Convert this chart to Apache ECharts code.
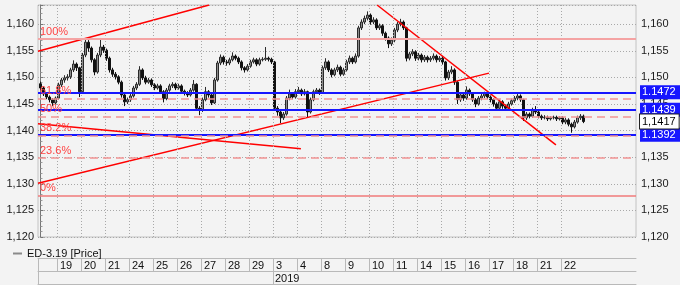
<!DOCTYPE html>
<html><head><meta charset="utf-8">
<script src="https://cdn.jsdelivr.net/npm/echarts@6/dist/echarts.min.js"></script>
<style>html,body{margin:0;padding:0;background:#f3f3f3}#c{width:680px;height:285px}</style>
</head><body><div id="c"></div>
<script>
// ---- data ----
const seriesName = 'ED-3.19 [Price]';
const dayLabels = ['19','20','21','24','25','26','27','28','29','3','4','8','9','10','11','14','15','16','17','18','21','22'];
const yearLabel = '2019';
const yearStartsAtDay = 9; // index of '3' in dayLabels
const opens = [
1.1488,1.1480,1.1469,1.1463,1.1458,1.1452,
1.1461,1.1486,1.1495,1.1499,1.1501,1.1514,1.1525,1.1518,
1.1473,1.1542,1.1566,1.1555,1.1533,1.1510,1.1542,1.1557,
1.1551,1.1536,1.1514,1.1506,1.1501,1.1491,1.1467,1.1454,
1.1458,1.1465,1.1480,1.1487,1.1514,1.1499,1.1491,1.1495,
1.1486,1.1480,1.1484,1.1473,1.1460,1.1476,1.1484,1.1487,
1.1480,1.1484,1.1474,1.1471,1.1467,1.1476,1.1487,1.1442,
1.1439,1.1458,1.1473,1.1467,1.1452,1.1495,1.1527,1.1538,
1.1529,1.1527,1.1533,1.1540,1.1536,1.1529,1.1518,1.1514,
1.1521,1.1529,1.1533,1.1525,1.1533,1.1534,1.1536,1.1534,
1.1529,1.1442,1.1435,1.1424,1.1431,1.1461,1.1469,1.1463,
1.1473,1.1476,1.1469,1.1473,1.1435,1.1458,1.1473,1.1476,
1.1471,1.1518,1.1529,1.1514,1.1505,1.1514,1.1519,1.1506,
1.1514,1.1529,1.1536,1.1529,1.1540,1.1593,1.1604,1.1611,
1.1617,1.1604,1.1608,1.1593,1.1597,1.1583,1.1574,1.1563,
1.1570,1.1589,1.1600,1.1604,1.1593,1.1536,1.1544,1.1548,
1.1536,1.1542,1.1533,1.1538,1.1533,1.1536,1.1540,1.1533,
1.1536,1.1529,1.1499,1.1510,1.1514,1.1491,1.1458,1.1467,
1.1461,1.1476,1.1469,1.1458,1.1450,1.1461,1.1465,1.1469,
1.1463,1.1458,1.1450,1.1442,1.1454,1.1446,1.1442,1.1450,
1.1456,1.1461,1.1465,1.1458,1.1424,1.1431,1.1427,1.1439,
1.1435,1.1427,1.1424,1.1425,1.1422,1.1424,1.1425,1.1422,
1.1424,1.1416,1.1420,1.1412,1.1407,1.1416,1.1424,1.1427];
const closes = [
1.1480,1.1469,1.1463,1.1458,1.1452,1.1461,
1.1486,1.1495,1.1499,1.1501,1.1514,1.1525,1.1518,1.1473,
1.1542,1.1566,1.1555,1.1533,1.1510,1.1542,1.1557,1.1551,
1.1536,1.1514,1.1506,1.1501,1.1491,1.1467,1.1454,1.1458,
1.1465,1.1480,1.1487,1.1514,1.1499,1.1491,1.1495,1.1486,
1.1480,1.1484,1.1473,1.1460,1.1476,1.1484,1.1487,1.1480,
1.1484,1.1474,1.1471,1.1467,1.1476,1.1487,1.1442,1.1439,
1.1458,1.1473,1.1467,1.1452,1.1495,1.1527,1.1538,1.1529,
1.1527,1.1533,1.1540,1.1536,1.1529,1.1518,1.1514,1.1521,
1.1529,1.1533,1.1525,1.1533,1.1534,1.1536,1.1534,1.1529,
1.1442,1.1435,1.1424,1.1431,1.1461,1.1469,1.1463,1.1473,
1.1476,1.1469,1.1473,1.1435,1.1458,1.1473,1.1476,1.1471,
1.1518,1.1529,1.1514,1.1505,1.1514,1.1519,1.1506,1.1514,
1.1529,1.1536,1.1529,1.1540,1.1593,1.1604,1.1611,1.1617,
1.1604,1.1608,1.1593,1.1597,1.1583,1.1574,1.1563,1.1570,
1.1589,1.1600,1.1604,1.1593,1.1536,1.1544,1.1548,1.1536,
1.1542,1.1533,1.1538,1.1533,1.1536,1.1540,1.1533,1.1536,
1.1529,1.1499,1.1510,1.1514,1.1491,1.1458,1.1467,1.1461,
1.1476,1.1469,1.1458,1.1450,1.1461,1.1465,1.1469,1.1463,
1.1458,1.1450,1.1442,1.1454,1.1446,1.1442,1.1450,1.1456,
1.1461,1.1465,1.1458,1.1424,1.1431,1.1427,1.1439,1.1435,
1.1427,1.1424,1.1425,1.1422,1.1424,1.1425,1.1422,1.1424,
1.1416,1.1420,1.1412,1.1407,1.1416,1.1424,1.1427,1.1417];
const highs = [
1.1492,1.1483,1.1472,1.1466,1.1461,1.1464,
1.1490,1.1499,1.1504,1.1506,1.1518,1.1532,1.1528,1.1520,
1.1546,1.1572,1.1570,1.1558,1.1536,1.1546,1.1574,1.1561,
1.1554,1.1539,1.1518,1.1510,1.1504,1.1494,1.1470,1.1462,
1.1469,1.1484,1.1491,1.1521,1.1517,1.1503,1.1499,1.1498,
1.1489,1.1488,1.1487,1.1476,1.1480,1.1488,1.1491,1.1490,
1.1488,1.1487,1.1477,1.1474,1.1480,1.1495,1.1489,1.1446,
1.1462,1.1482,1.1476,1.1470,1.1499,1.1531,1.1543,1.1541,
1.1533,1.1537,1.1547,1.1543,1.1539,1.1532,1.1521,1.1525,
1.1533,1.1537,1.1536,1.1537,1.1538,1.1557,1.1539,1.1537,
1.1531,1.1446,1.1438,1.1435,1.1465,1.1477,1.1472,1.1478,
1.1482,1.1479,1.1478,1.1475,1.1462,1.1477,1.1480,1.1479,
1.1522,1.1536,1.1532,1.1517,1.1518,1.1524,1.1522,1.1518,
1.1533,1.1541,1.1539,1.1545,1.1597,1.1609,1.1616,1.1624,
1.1620,1.1613,1.1611,1.1601,1.1600,1.1586,1.1577,1.1575,
1.1593,1.1604,1.1610,1.1607,1.1595,1.1548,1.1553,1.1551,
1.1546,1.1545,1.1542,1.1541,1.1540,1.1545,1.1543,1.1540,
1.1540,1.1531,1.1514,1.1521,1.1517,1.1493,1.1471,1.1470,
1.1483,1.1479,1.1472,1.1461,1.1465,1.1469,1.1473,1.1472,
1.1466,1.1461,1.1453,1.1458,1.1457,1.1449,1.1454,1.1460,
1.1465,1.1471,1.1468,1.1460,1.1435,1.1434,1.1443,1.1446,
1.1438,1.1430,1.1429,1.1428,1.1427,1.1428,1.1428,1.1427,
1.1427,1.1424,1.1423,1.1415,1.1420,1.1428,1.1431,1.1430];
const lows = [
1.1476,1.1465,1.1459,1.1453,1.1446,1.1449,
1.1458,1.1482,1.1490,1.1494,1.1497,1.1510,1.1512,1.1463,
1.1470,1.1538,1.1548,1.1528,1.1504,1.1507,1.1538,1.1546,
1.1531,1.1509,1.1501,1.1496,1.1487,1.1462,1.1446,1.1450,
1.1454,1.1462,1.1476,1.1484,1.1495,1.1487,1.1488,1.1482,
1.1476,1.1477,1.1469,1.1453,1.1457,1.1473,1.1480,1.1476,
1.1477,1.1470,1.1466,1.1463,1.1464,1.1473,1.1437,1.1429,
1.1435,1.1455,1.1462,1.1448,1.1450,1.1492,1.1523,1.1524,
1.1522,1.1523,1.1530,1.1532,1.1525,1.1513,1.1509,1.1511,
1.1518,1.1526,1.1521,1.1522,1.1530,1.1531,1.1530,1.1525,
1.1437,1.1428,1.1414,1.1420,1.1428,1.1457,1.1459,1.1460,
1.1469,1.1465,1.1466,1.1424,1.1432,1.1455,1.1470,1.1467,
1.1469,1.1514,1.1510,1.1500,1.1502,1.1510,1.1502,1.1503,
1.1511,1.1525,1.1525,1.1526,1.1537,1.1589,1.1600,1.1607,
1.1599,1.1600,1.1589,1.1589,1.1578,1.1569,1.1555,1.1559,
1.1566,1.1585,1.1596,1.1589,1.1530,1.1532,1.1540,1.1531,
1.1532,1.1528,1.1529,1.1528,1.1529,1.1532,1.1528,1.1529,
1.1524,1.1494,1.1495,1.1506,1.1486,1.1450,1.1454,1.1456,
1.1458,1.1465,1.1454,1.1444,1.1447,1.1457,1.1461,1.1459,
1.1453,1.1445,1.1437,1.1439,1.1441,1.1438,1.1439,1.1447,
1.1452,1.1457,1.1454,1.1418,1.1420,1.1423,1.1424,1.1431,
1.1423,1.1420,1.1421,1.1418,1.1419,1.1421,1.1418,1.1419,
1.1412,1.1412,1.1408,1.1396,1.1404,1.1413,1.1420,1.1414];
const fibLabels = ['100%','61.8%','50%','38.2%','23.6%','0%'];
const fibLevels = [1.1572,1.1460,1.1426,1.1391,1.1348,1.1278];
const blueLevels = [1.1472,1.1439,1.1392];
const lastPrice = 1.1417;
// trend lines: [[barIndex, price], [barIndex, price]]
const trendLines = [
  [[-0.83,1.1549],[56.2,1.1636]],
  [[-0.83,1.1301],[149.5,1.1508]],
  [[-0.83,1.1413],[86.8,1.1366]],
  [[112.2,1.1636],[171.8,1.1373]]
];
const yMin = 1.120, yMax = 1.1636, yStep = 0.005;

// ---- layout ----
const firstDayBars = 6, barsPerDay = 8;
const xMin = -0.83, xMax = 198.5;
const dayStarts = dayLabels.map((d,k)=> firstDayBars - 0.5 + k*barsPerDay);
const font = '"Liberation Sans", Arial, sans-serif';
const candleData = closes.map((c,i)=>[i, opens[i], c, lows[i], highs[i]]);
const yFmt = v => Math.abs(v/yStep - Math.round(v/yStep)) < 1e-6 ? v.toFixed(3).replace('.', ',') : '';
const dayFmt = v => { const k = dayStarts.findIndex(s=>Math.abs(s-v)<1e-6); return k<0?'':dayLabels[k]; };
const tableLine = {color:'#b9b9b9', width:1};

const chart = echarts.init(document.getElementById('c'), null, {renderer:'canvas'});
const option = {
  animation:false,
  backgroundColor:'#f3f3f3',
  textStyle:{fontFamily:font},
  grid:{left:38,right:44,top:5,bottom:48,show:true,borderColor:'#c2c2c2',borderWidth:1,backgroundColor:'#f3f3f3'},
  legend:{left:8,top:243,itemWidth:9,itemHeight:2,itemGap:6,selectedMode:false,
    textStyle:{fontSize:11,color:'#111',fontFamily:font},
    data:[{name:seriesName,icon:'rect',itemStyle:{color:'#8a8a8a',borderWidth:0}}]},
  xAxis:[
    {type:'value',min:xMin,max:xMax,show:false},
    {type:'value',min:xMin,max:xMax,position:'bottom',offset:21,
      axisLine:{show:true,lineStyle:tableLine},
      axisTick:{show:true,customValues:[xMin].concat(dayStarts),length:13,lineStyle:tableLine},
      axisLabel:{show:true,customValues:dayStarts,formatter:dayFmt,align:'left',margin:2,padding:[0,0,0,3],fontSize:11,color:'#111',fontFamily:font},
      splitLine:{show:false}},
    {type:'value',min:xMin,max:xMax,position:'bottom',offset:34,
      axisLine:{show:true,lineStyle:tableLine},
      axisTick:{show:true,customValues:[xMin,dayStarts[yearStartsAtDay]],length:13,lineStyle:tableLine},
      axisLabel:{show:true,customValues:[dayStarts[yearStartsAtDay]],formatter:()=>yearLabel,align:'left',margin:2,padding:[0,0,0,2],fontSize:11,color:'#111',fontFamily:font},
      splitLine:{show:false}},
    {type:'value',min:xMin,max:xMax,position:'bottom',offset:47,
      axisLine:{show:true,lineStyle:tableLine},axisTick:{show:false},axisLabel:{show:false},splitLine:{show:false}}
  ],
  yAxis:[
    {type:'value',position:'left',min:yMin,max:yMax,interval:yStep,
      axisLine:{show:false},axisTick:{show:false},
      axisLabel:{margin:4,fontSize:11,color:'#1a1a1a',formatter:yFmt,fontFamily:font},
      splitLine:{show:true,lineStyle:{color:'#a8a8a8',type:[1,2],width:1}}},
    {type:'value',position:'right',min:yMin,max:yMax,interval:yStep,
      axisLine:{show:true,lineStyle:{color:'#777'}},
      axisTick:{show:true,length:3,lineStyle:{color:'#777'}},
      minorTick:{show:true,splitNumber:5,length:2,lineStyle:{color:'#999'}},
      axisLabel:{margin:5,fontSize:11,color:'#1a1a1a',formatter:yFmt,fontFamily:font},
      splitLine:{show:false}}
  ],
  series:[
    {type:'line',name:'grid-days',data:[],silent:true,z:1,
      markLine:{symbol:'none',silent:true,animation:false,precision:4,label:{show:false},
        lineStyle:{color:'#a8a8a8',type:[1,2],width:1},
        data:dayStarts.map(x=>({xAxis:x}))}},
    {type:'candlestick',name:seriesName,data:candleData,encode:{x:0,y:[1,2,3,4]},
      barWidth:2,z:2,
      itemStyle:{color:'#8c8c8c',borderColor:'#2a2a2a',color0:'#111',borderColor0:'#111',borderWidth:1}},
    {type:'line',name:'levels',data:[],silent:true,z:3,
      markLine:{symbol:'none',silent:true,animation:false,precision:4,
        data:[
          ...blueLevels.map(v=>({yAxis:v,lineStyle:{color:'#1616ff',width:2,type:'solid'},
            label:{show:true,position:'end',distance:4,formatter:v.toFixed(4),backgroundColor:'#1616ff',color:'#fff',padding:[2,6,1,2],fontSize:11,fontFamily:font}})),
          ...fibLevels.map((v,i)=>({yAxis:v,
            lineStyle:{color:(i===0)?'#f4a3a3':(i===5?'#f07a7a':'#f29494'),width:(i===0)?2:1.5,type:(i===0||i===5)?'solid':[8,5]},
            label:{show:true,position:'insideStartTop',distance:2,formatter:fibLabels[i],color:'#ff4444',fontSize:11,fontFamily:font}})),
          {yAxis:lastPrice,lineStyle:{color:'rgba(0,0,0,0)',width:0},
            label:{show:true,position:'end',distance:4,formatter:lastPrice.toFixed(4).replace('.', ','),backgroundColor:'#ffffff',borderColor:'#222',borderWidth:1,color:'#000',padding:[2,3,1,2],fontSize:11,fontFamily:font}}
        ]}},
    ...trendLines.map((ln,i)=>({type:'line',name:'trend'+i,data:ln,symbol:'none',silent:true,z:4,clip:true,
      lineStyle:{color:'#ff0000',width:1.5}}))
  ]
};
chart.setOption(option);
</script>
</body></html>
